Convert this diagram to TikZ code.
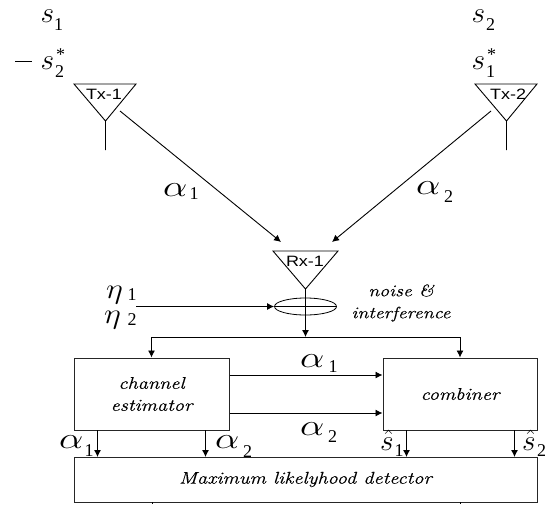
\documentclass[tikz,border=0pt]{standalone}
\usepackage{fontspec}
\usetikzlibrary{arrows.meta,shapes.geometric}
\newfontfamily\serifup{Liberation Serif}
\newfontfamily\calli[FakeStretch=1.2,FakeBold=0.25]{Latin Modern Roman}
\newfontfamily\lblsans[FakeStretch=1.2]{Liberation Sans}
\newcommand{\bigs}[1]{\scalebox{1.18}{\fontsize{24.88}{25}\selectfont$#1$}}
\newcommand{\subd}[1]{{\fontsize{18}{18}\selectfont\serifup #1}}
\newcommand{\alp}{\scalebox{1.55}[1.2]{\fontsize{24.88}{25}\selectfont$\alpha$}}
\newcommand{\etaa}{\scalebox{1.3}[1.15]{\fontsize{24.88}{25}\selectfont$\eta$}}
\tikzset{
  x=1pt,y=-1pt,
  line/.style={draw=black,line width=0.9pt},
  arr/.style={line,-{Latex[length=7pt,width=7pt]}},
  box/.style={draw=black!85,line width=1pt,minimum height=72pt,inner sep=0pt,align=center,font=\fontsize{17}{22}\selectfont\calli\itshape},
  sym/.style={inner sep=0pt,anchor=base west},
  ant/.style={inner sep=0pt,font=\fontsize{15}{15}\selectfont\lblsans},
  note/.style={inner sep=0pt,align=center,font=\fontsize{16.5}{22}\selectfont\calli\itshape},
}
\begin{document}
\begin{tikzpicture}
\useasboundingbox (0,0) rectangle (556,504);
% symbols top left
\node[sym] (s1) at (40.5,22) {\bigs{s}};
\node[sym] (s1i) at (54,30) {\subd{1}};
\node[inner sep=0pt] (mn) at (24,61) {\rule{17pt}{1pt}};
\node[sym] (s2) at (40.5,69) {\bigs{s}};
\node[sym] (s2i) at (55,77) {\subd{2}};
\node[sym] (s2st) at (56,60) {\subd{*}};
% symbols top right
\node[sym] (s3) at (471.5,22) {\bigs{s}};
\node[sym] (s3i) at (486,30) {\subd{2}};
\node[sym] (s4) at (471.5,69) {\bigs{s}};
\node[sym] (s4i) at (486,77) {\subd{1}};
\node[sym] (s4st) at (487,60) {\subd{*}};
% antennas
\coordinate (t1a) at (74,84); \coordinate (t1b) at (136,84); \coordinate (t1c) at (105.5,121); \coordinate (t1d) at (105.5,150);
\draw[line] (t1a) -- (t1b) -- (t1c) -- cycle (t1c) -- (t1d);
\node[ant] (tx1) at (104,94) {Tx-1};
\coordinate (t2a) at (475,84); \coordinate (t2b) at (537,84); \coordinate (t2c) at (506.5,121); \coordinate (t2d) at (506.5,150);
\draw[line] (t2a) -- (t2b) -- (t2c) -- cycle (t2c) -- (t2d);
\node[ant] (tx2) at (508,94) {Tx-2};
\coordinate (r1a) at (273,251); \coordinate (r1b) at (338,251); \coordinate (r1c) at (305.5,289);
\draw[line] (r1a) -- (r1b) -- (r1c) -- cycle;
\node[ant] (rx1) at (305,261) {Rx-1};
% links
\coordinate (l1s) at (120,111); \coordinate (l1e) at (281,242);
\coordinate (l2s) at (491,111); \coordinate (l2e) at (332,242);
\draw[arr] (l1s) -- (l1e);
\draw[arr] (l2s) -- (l2e);
\node[sym] (a1) at (163,196) {\alp};
\node[sym] (a1i) at (189.5,199) {\subd{1}};
\node[sym] (a2) at (416,194) {\alp};
\node[sym] (a2i) at (444,202) {\subd{2}};
% summing ellipse
\node[draw=black,line width=0.8pt,ellipse,inner sep=0pt,minimum width=62pt,minimum height=17pt] (sum) at (305.5,306.5) {};
\coordinate (nin) at (136,306.5);
\draw[arr] (nin) -- (sum.west);
\draw[line] (sum.west) -- (sum.east);
\node[sym] (e1) at (106,298) {\etaa};
\node[sym] (e1i) at (127.5,300) {\subd{1}};
\node[sym] (e2) at (104,323) {\etaa};
\node[sym] (e2i) at (127.5,325) {\subd{2}};
\node[note] (noise) at (401,303) {noise \&\\interference};
% boxes
\node[box,minimum width=155pt] (ce) at (151.5,394) {channel\\estimator};
\node[box,minimum width=154pt] (co) at (460,394) {combiner};
\node[box,minimum width=463pt,minimum height=45pt] (ml) at (305.5,479.5) {Maximum likelyhood detector};
% bus
\coordinate (bus) at (305.5,337);
\draw[arr] (r1c) -- (bus);
\draw[arr] (bus) -| (ce.north);
\draw[arr] (bus) -| (co.north);
% between boxes
\draw[arr] (ce.east |- 0,375) -- (co.west |- 0,375);
\draw[arr] (ce.east |- 0,413) -- (co.west |- 0,413);
\node[sym] (a3) at (300,367) {\alp};
\node[sym] (a3i) at (328.5,372) {\subd{1}};
\node[sym] (a4) at (300,435) {\alp};
\node[sym] (a4i) at (328,442) {\subd{2}};
% down arrows
\draw[arr] (97.5,430) -- (97.5,457);
\draw[arr] (205.5,430) -- (205.5,457);
\draw[arr] (406.5,430) -- (406.5,457);
\draw[arr] (514.5,430) -- (514.5,457);
\node[sym] (a5) at (59,448) {\alp};
\node[sym] (a5i) at (84.5,456) {\subd{1}};
\node[sym] (a6) at (215,448) {\alp};
\node[sym] (a6i) at (243,457) {\subd{2}};
\node[sym] (h1) at (380,450) {\bigs{\hat{s}}};
\node[sym] (h1i) at (394.5,456) {\subd{1}};
\node[sym] (h2) at (522,450) {\bigs{\hat{s}}};
\node[sym] (h2i) at (537,456) {\subd{2}};
% stubs
\draw[line] (152,502) -- (152,504);
\draw[line] (460,502) -- (460,504);
\end{tikzpicture}
\end{document}
